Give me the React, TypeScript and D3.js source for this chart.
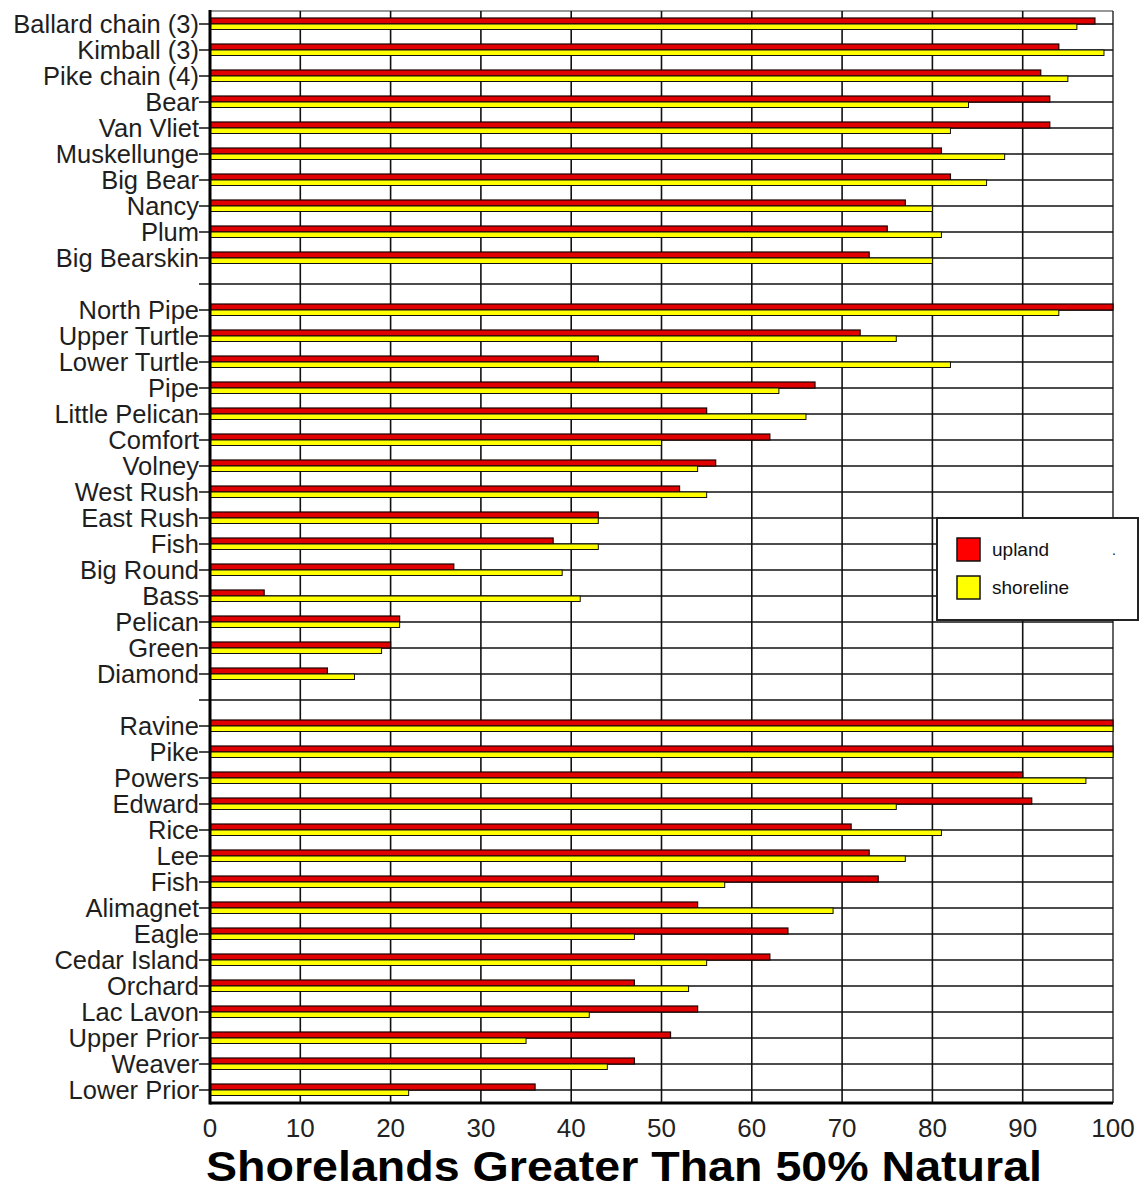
import React from "react";
import * as d3 from "d3";

const lakes: string[] = [
  "Ballard chain (3)", "Kimball (3)", "Pike chain (4)", "Bear", "Van Vliet",
  "Muskellunge", "Big Bear", "Nancy", "Plum", "Big Bearskin",
  "",
  "North Pipe", "Upper Turtle", "Lower Turtle", "Pipe", "Little Pelican",
  "Comfort", "Volney", "West Rush", "East Rush", "Fish", "Big Round",
  "Bass", "Pelican", "Green", "Diamond",
  "",
  "Ravine", "Pike", "Powers", "Edward", "Rice", "Lee", "Fish", "Alimagnet",
  "Eagle", "Cedar Island", "Orchard", "Lac Lavon", "Upper Prior", "Weaver",
  "Lower Prior",
];

const upland: (number | null)[] = [
  98, 94, 92, 93, 93, 81, 82, 77, 75, 73,
  null,
  100, 72, 43, 67, 55, 62, 56, 52, 43, 38, 27, 6, 21, 20, 13,
  null,
  100, 100, 90, 91, 71, 73, 74, 54, 64, 62, 47, 54, 51, 47, 36,
];

const shoreline: (number | null)[] = [
  96, 99, 95, 84, 82, 88, 86, 80, 81, 80,
  null,
  94, 76, 82, 63, 66, 50, 54, 55, 43, 43, 39, 41, 21, 19, 16,
  null,
  100, 100, 97, 76, 81, 77, 57, 69, 47, 55, 53, 42, 35, 44, 22,
];

const xTicks: number[] = [0, 10, 20, 30, 40, 50, 60, 70, 80, 90, 100];
const seriesNames: string[] = ["upland", "shoreline"];
const seriesColors: string[] = ["#e00000", "#ffff00"];
const legendColors: string[] = ["#ff0000", "#ffff00"];
const title = "Shorelands Greater Than 50% Natural";

const W = 1147;
const H = 1191;
const FONT = "'Liberation Sans', Arial, sans-serif";

export default function App() {
  const x = d3.scaleLinear().domain([0, 100]).range([210, 1113]);
  const y = d3
    .scaleBand<number>()
    .domain(lakes.map((_, i) => i))
    .range([11, 1103])
    .padding(0);
  const bw = y.bandwidth();
  const c = (i: number) => (y(i) as number) + bw / 2;
  const barH = 6;
  const [x0, x1] = x.range();
  const [y0, y1] = y.range();

  return (
    <svg
      width={W}
      height={H}
      style={{ position: "absolute", left: 0, top: 0, background: "#fff" }}
      fontFamily={FONT}
    >
      <rect x={0} y={0} width={W} height={H} fill="#fff" />
      <line x1={x0} x2={x1} y1={y0} y2={y0} stroke="#333" strokeWidth={1.2} />
      {xTicks.slice(1).map((t) => (
        <line key={"vg" + t} x1={x(t)} x2={x(t)} y1={y0} y2={y1} stroke="#111" strokeWidth={t === 100 ? 1.3 : 1.6} />
      ))}
      {lakes.map((_, i) => (
        <line key={"hg" + i} x1={x0} x2={x1} y1={c(i)} y2={c(i)} stroke="#111" strokeWidth={1.4} />
      ))}
      {lakes.map((_, i) => {
        const u = upland[i];
        const s = shoreline[i];
        return (
          <g key={"b" + i}>
            {u !== null && (
              <rect x={x(0)} y={c(i) - barH} width={x(u) - x(0)} height={barH} fill={seriesColors[0]} stroke="#1a0000" strokeWidth={1.2} />
            )}
            {s !== null && (
              <rect x={x(0)} y={c(i)} width={x(s) - x(0)} height={barH - 0.5} fill={seriesColors[1]} stroke="#111" strokeWidth={1} />
            )}
          </g>
        );
      })}
      {lakes.map((name, i) => (
        <g key={"yl" + i}>
          <line x1={199} x2={x0} y1={c(i)} y2={c(i)} stroke="#111" strokeWidth={1.5} />
          {name && (
            <text x={199} y={c(i) + 9} textAnchor="end" fontSize={25.5} fill="#1e1e1e">
              {name}
            </text>
          )}
        </g>
      ))}
      <line x1={x0} x2={x0} y1={y0 - 1} y2={y1 + 1.5} stroke="#000" strokeWidth={3} />
      <line x1={x0} x2={x1} y1={y1} y2={y1} stroke="#000" strokeWidth={3} />
      {xTicks.map((t) => (
        <text key={"xt" + t} x={x(t)} y={1137} textAnchor="middle" fontSize={26} fill="#222">
          {t}
        </text>
      ))}
      <text x={206} y={1181} fontSize={43} fontWeight="bold" fill="#000" textLength={836} lengthAdjust="spacingAndGlyphs">
        {title}
      </text>
      <g>
        <rect x={937} y={518} width={201} height={102} fill="#fff" stroke="#222" strokeWidth={2} />
        {seriesNames.map((n, k) => (
          <g key={"lg" + n}>
            <rect x={957} y={538 + k * 38} width={23} height={23} fill={legendColors[k]} stroke="#111" strokeWidth={1.5} />
            <text x={992} y={556 + k * 38} fontSize={19} fill="#111">
              {n}
            </text>
          </g>
        ))}
        <text x={1112} y={555} fontSize={14} fill="#111">.</text>
      </g>
    </svg>
  );
}
